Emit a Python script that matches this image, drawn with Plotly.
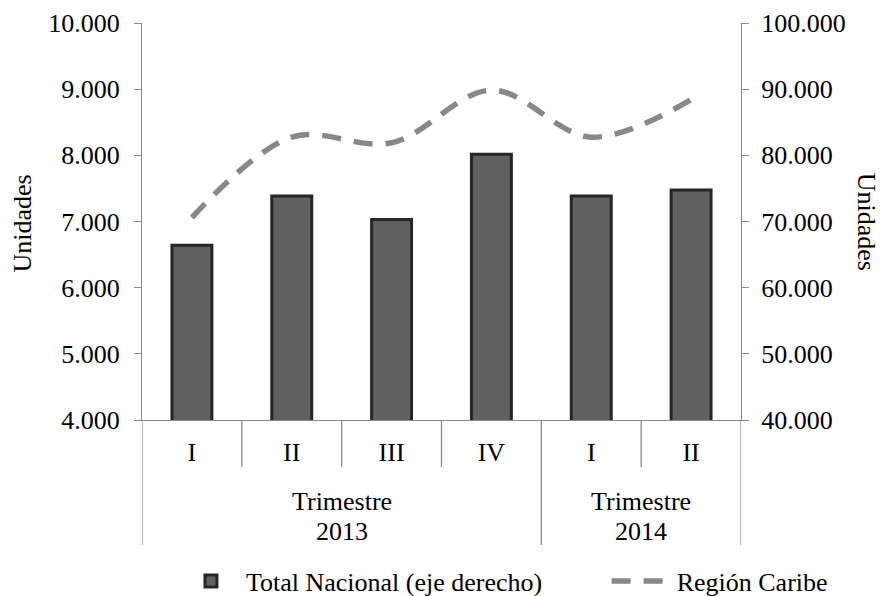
import plotly.graph_objects as go

# ---- data ----
years = ["2013", "2013", "2013", "2013", "2014", "2014"]
quarters = ["I", "II", "III", "IV", "I", "II"]
group_prefix = "Trimestre"
total_nacional = [66400, 73850, 70300, 80150, 73850, 74750]   # right axis
region_caribe = [7060, 8275, 8190, 8985, 8275, 8840]          # left axis

left_ticks = [4000, 5000, 6000, 7000, 8000, 9000, 10000]
right_ticks = [40000, 50000, 60000, 70000, 80000, 90000, 100000]

FONT = "Liberation Serif"
AXIS_GRAY = "#8a8a8a"
xpos = list(range(len(quarters)))

PLOT_H = 397.0  # plot-area height in px (used to express label offsets in paper units)

fig = go.Figure()
fig.add_trace(go.Bar(
    x=xpos, y=total_nacional, yaxis="y2", name="Total Nacional (eje derecho)",
    legend="legend",
    width=0.4, marker=dict(color="#606060", line=dict(color="#262626", width=3)),
))
fig.add_trace(go.Scatter(
    x=xpos, y=region_caribe, yaxis="y", name="Región Caribe", mode="lines",
    legend="legend2",
    line=dict(color="#888888", width=5.5, dash="19px,13px", shape="spline"),
))

# ---- two-level category dividers and group labels ----
shapes = []
annotations = []
for i in range(len(quarters) - 1):
    if years[i] == years[i + 1]:
        shapes.append(dict(type="line", xref="x", yref="paper",
                           x0=i + 0.5, x1=i + 0.5, y0=0, y1=-47 / PLOT_H,
                           line=dict(color=AXIS_GRAY, width=1.3)))
groups = []
start = 0
for i in range(1, len(years) + 1):
    if i == len(years) or years[i] != years[start]:
        groups.append((years[start], start, i - 1))
        start = i
bounds = sorted({g[1] - 0.5 for g in groups} | {g[2] + 0.5 for g in groups})
for b in bounds:
    shapes.append(dict(type="line", xref="x", yref="paper",
                       x0=b, x1=b, y0=0, y1=-125 / PLOT_H,
                       line=dict(color=AXIS_GRAY, width=1.3)))
lab_font = dict(family=FONT, size=26, color="black")
for yr, s, e in groups:
    annotations.append(dict(xref="x", yref="paper", x=(s + e) / 2, y=-81 / PLOT_H,
                            text=group_prefix, showarrow=False,
                            xanchor="center", yanchor="middle", font=lab_font))
    annotations.append(dict(xref="x", yref="paper", x=(s + e) / 2, y=-111 / PLOT_H,
                            text=yr, showarrow=False,
                            xanchor="center", yanchor="middle", font=lab_font))

# axis titles
annotations.append(dict(xref="paper", yref="paper", x=-0.1987, y=0.495, text="Unidades",
                        textangle=-90, showarrow=False, xanchor="center", yanchor="middle",
                        font=lab_font))
annotations.append(dict(xref="paper", yref="paper", x=1.21, y=0.5, text="Unidades",
                        textangle=90, showarrow=False, xanchor="center", yanchor="middle",
                        font=lab_font))

leg_common = dict(orientation="h", xref="container", yref="container",
                  y=0.0255, xanchor="left", yanchor="middle",
                  itemwidth=60, bgcolor="rgba(0,0,0,0)", font=lab_font)

# The page body has an 8px margin, so the figure is 8px smaller than the window.
fig.update_layout(
    width=877, height=588,
    margin=dict(l=134, r=144, t=15, b=176, autoexpand=False),
    paper_bgcolor="white", plot_bgcolor="white",
    font=dict(family=FONT, size=26, color="black"),
    separators=",.",
    showlegend=True,
    legend=dict(x=0.1915, **leg_common),
    legend2=dict(x=0.6826, **leg_common),
    xaxis=dict(range=[-0.5, len(quarters) - 0.5], tickmode="array", tickvals=xpos,
               ticktext=quarters, showline=True, linecolor=AXIS_GRAY, linewidth=1.3,
               showgrid=False, zeroline=False, ticks="", ticklabelstandoff=9,
               tickfont=lab_font, fixedrange=True),
    yaxis=dict(range=[4000, 10000], tickmode="array", tickvals=left_ticks,
               tickformat=",.0f", showline=True, linecolor=AXIS_GRAY, linewidth=1.3,
               ticks="outside", ticklen=7, tickcolor=AXIS_GRAY, tickwidth=1.3,
               showgrid=False, zeroline=False, ticklabelstandoff=9,
               ticklabeloverflow="allow", tickfont=lab_font),
    yaxis2=dict(range=[40000, 100000], tickmode="array", tickvals=right_ticks,
                tickformat=",.0f", overlaying="y", side="right", showline=True,
                linecolor=AXIS_GRAY, linewidth=1.3, ticks="outside", ticklen=7,
                tickcolor=AXIS_GRAY, tickwidth=1.3, showgrid=False, zeroline=False,
                ticklabelstandoff=7, ticklabeloverflow="allow", tickfont=lab_font),
    shapes=shapes,
    annotations=annotations,
)

fig.write_html("out.html")
